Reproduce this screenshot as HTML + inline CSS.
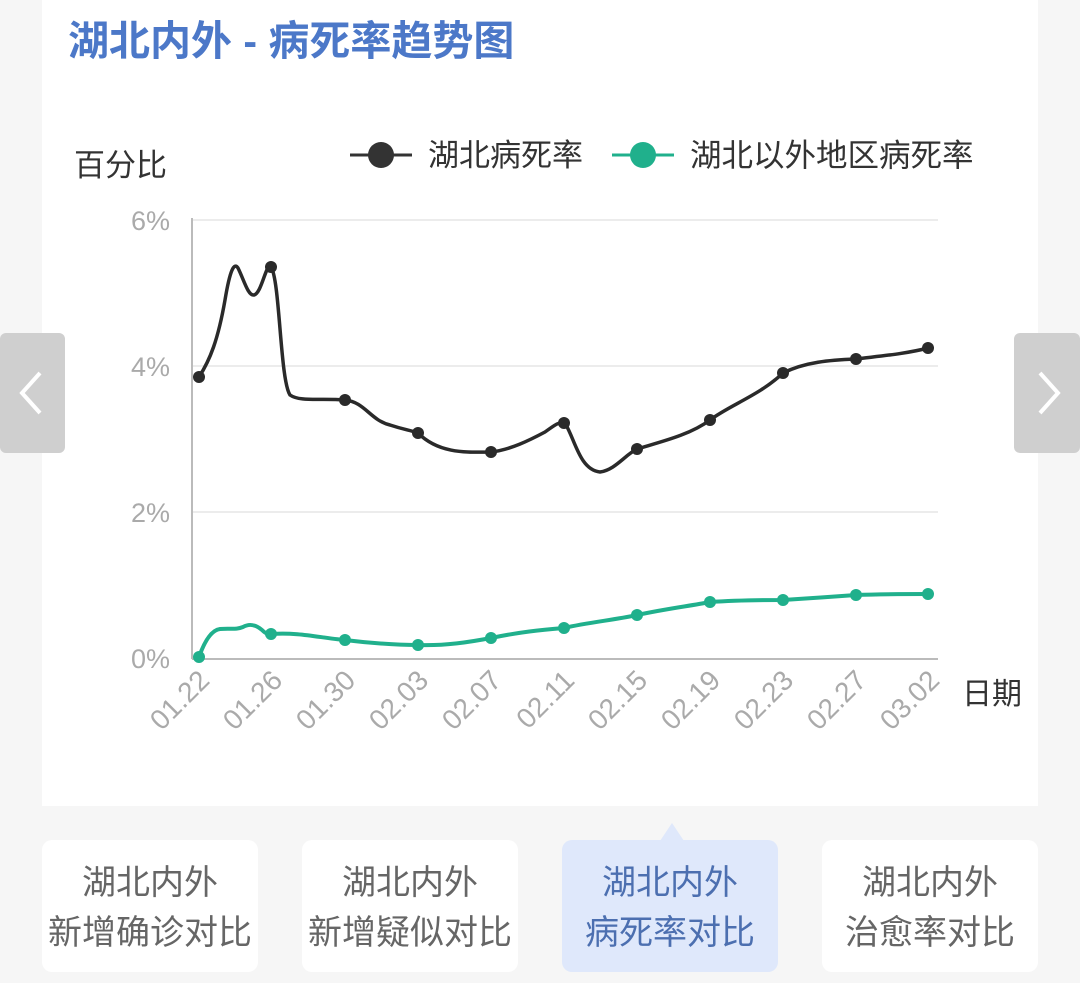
<!DOCTYPE html>
<html><head><meta charset="utf-8"><style>
html,body{margin:0;padding:0;background:#f6f6f6;width:1080px;height:983px;overflow:hidden}
.f{font-family:"Liberation Sans","Noto Sans CJK SC",sans-serif}
</style></head><body>
<svg width="1080" height="983" xmlns="http://www.w3.org/2000/svg" class="f" style="position:absolute;left:0;top:0">
<rect x="0" y="0" width="1080" height="983" fill="#f6f6f6"/>
<rect x="42" y="0" width="996" height="806" fill="#fff"/>
<text x="68" y="55" font-size="41" font-weight="bold" fill="#4c78c8" font-family="Liberation Sans,Noto Sans CJK SC,sans-serif">湖北内外 - 病死率趋势图</text>
<text x="74" y="176" font-size="31" fill="#333" font-family="Liberation Sans,Noto Sans CJK SC,sans-serif">百分比</text>
<line x1="350" y1="155" x2="412" y2="155" stroke="#333" stroke-width="3"/><circle cx="381" cy="155" r="13" fill="#333"/>
<text x="428" y="166" font-size="31" fill="#333" font-family="Liberation Sans,Noto Sans CJK SC,sans-serif">湖北病死率</text>
<line x1="612" y1="155" x2="674" y2="155" stroke="#20b08c" stroke-width="3"/><circle cx="643" cy="155" r="13" fill="#20b08c"/>
<text x="690" y="166" font-size="31.5" fill="#333" font-family="Liberation Sans,Noto Sans CJK SC,sans-serif">湖北以外地区病死率</text>
<g stroke="#ececec" stroke-width="2">
<line x1="192" y1="220" x2="938" y2="220"/><line x1="192" y1="366" x2="938" y2="366"/><line x1="192" y1="512" x2="938" y2="512"/>
</g>
<line x1="192" y1="218" x2="192" y2="659" stroke="#bbb" stroke-width="2"/>
<line x1="192" y1="659" x2="938" y2="659" stroke="#bbb" stroke-width="2"/>
<g font-size="27" fill="#aaa" text-anchor="end">
<text x="170" y="230">6%</text><text x="170" y="376">4%</text><text x="170" y="522">2%</text><text x="170" y="668">0%</text>
</g>
<g font-size="28" fill="#aaa" text-anchor="end">
<text transform="translate(211,682) rotate(-45)">01.22</text>
<text transform="translate(284,682) rotate(-45)">01.26</text>
<text transform="translate(357,682) rotate(-45)">01.30</text>
<text transform="translate(430,682) rotate(-45)">02.03</text>
<text transform="translate(503,682) rotate(-45)">02.07</text>
<text transform="translate(576,682) rotate(-45)">02.11</text>
<text transform="translate(649,682) rotate(-45)">02.15</text>
<text transform="translate(722,682) rotate(-45)">02.19</text>
<text transform="translate(795,682) rotate(-45)">02.23</text>
<text transform="translate(868,682) rotate(-45)">02.27</text>
<text transform="translate(941,682) rotate(-45)">03.02</text>
</g>
<text x="962" y="704" font-size="30" fill="#333" font-family="Liberation Sans,Noto Sans CJK SC,sans-serif">日期</text>
<path d="M199,377 C210,360 218,340 225,300 C230,270 234,262 238,268 C244,280 248,296 254,295 C262,293 266,262 271,267 C280,280 280,380 290,395 C300,402 320,398 345,400 C365,402 370,420 390,425 C405,430 410,430 418,433 C440,455 470,452 491,452 C510,450 530,440 545,432 C555,425 560,420 566,425 C575,440 580,470 600,472 C615,470 625,455 637,449 C660,442 690,435 710,420 C730,405 760,395 783,373 C805,362 830,360 856,359 C880,356 905,354 928,348" fill="none" stroke="#2a2a2a" stroke-width="3.5"/>
<g fill="#2a2a2a">
<circle cx="199" cy="377" r="6"/><circle cx="271" cy="267" r="6"/><circle cx="345" cy="400" r="6"/><circle cx="418" cy="433" r="6"/><circle cx="491" cy="452" r="6"/><circle cx="564" cy="423" r="6"/><circle cx="637" cy="449" r="6"/><circle cx="710" cy="420" r="6"/><circle cx="783" cy="373" r="6"/><circle cx="856" cy="359" r="6"/><circle cx="928" cy="348" r="6"/>
</g>
<path d="M199,657 C205,640 212,630 220,629 C230,628 236,630 243,627 C250,623 256,625 262,630 C266,634 268,634 271,634 C300,632 320,638 345,640 C370,643 395,645 418,645 C445,646 470,642 491,638 C520,632 540,630 564,628 C590,622 615,620 637,615 C670,608 690,606 710,602 C740,600 760,600 783,600 C810,598 830,597 856,595 C880,594 905,594 928,594" fill="none" stroke="#20b08c" stroke-width="4"/>
<g fill="#20b08c">
<circle cx="199" cy="657" r="6"/><circle cx="271" cy="634" r="6"/><circle cx="345" cy="640" r="6"/><circle cx="418" cy="645" r="6"/><circle cx="491" cy="638" r="6"/><circle cx="564" cy="628" r="6"/><circle cx="637" cy="615" r="6"/><circle cx="710" cy="602" r="6"/><circle cx="783" cy="600" r="6"/><circle cx="856" cy="595" r="6"/><circle cx="928" cy="594" r="6"/>
</g>
<rect x="0" y="333" width="65" height="120" rx="6" fill="#cfcfcf"/>
<path d="M40,373 L22,393 L40,413" fill="none" stroke="#fff" stroke-width="4"/>
<rect x="1014" y="333" width="66" height="120" rx="6" fill="#cfcfcf"/>
<path d="M1040,373 L1058,393 L1040,413" fill="none" stroke="#fff" stroke-width="4"/>
<g font-size="34" text-anchor="middle" fill="#666" font-family="Liberation Sans,Noto Sans CJK SC,sans-serif">
<rect x="42" y="840" width="216" height="132" rx="10" fill="#fff"/>
<text x="150" y="894">湖北内外</text><text x="150" y="944">新增确诊对比</text>
<rect x="302" y="840" width="216" height="132" rx="10" fill="#fff"/>
<text x="410" y="894">湖北内外</text><text x="410" y="944">新增疑似对比</text>
<rect x="562" y="840" width="216" height="132" rx="10" fill="#dfe8fb"/>
<path d="M660,841 L672,823 L684,841 Z" fill="#dfe8fb"/>
<text x="670" y="894" fill="#4c6fb0">湖北内外</text><text x="670" y="944" fill="#4c6fb0">病死率对比</text>
<rect x="822" y="840" width="216" height="132" rx="10" fill="#fff"/>
<text x="930" y="894">湖北内外</text><text x="930" y="944">治愈率对比</text>
</g>
</svg>
</body></html>
